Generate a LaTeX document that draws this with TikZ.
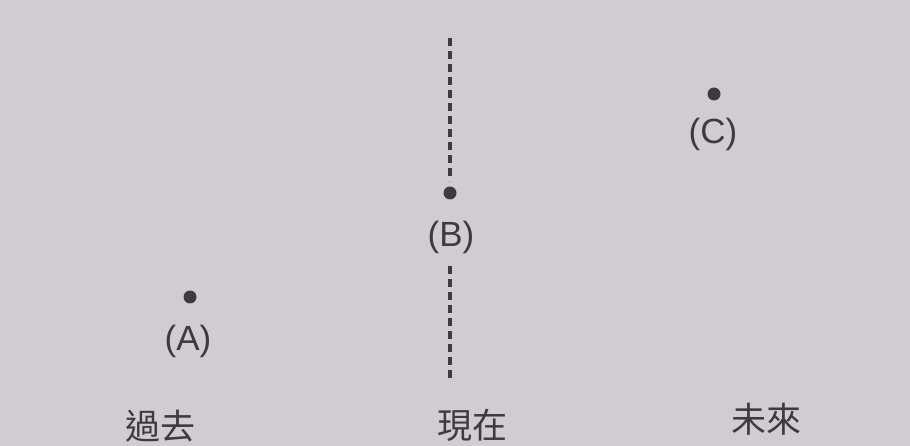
\documentclass[tikz,border=0pt]{standalone}
\usepackage{fontspec}
\setmainfont{Liberation Sans}
\newfontfamily\cjk{Noto Sans CJK TC}
\definecolor{paper}{RGB}{208,205,208}
\definecolor{ink}{RGB}{62,58,62}

\begin{document}
\begin{tikzpicture}[x=1pt,y=-1pt,
  dot/.style={circle,fill=ink,inner sep=0pt,minimum size=13pt},
  tag/.style={text=ink,font=\fontsize{35}{35}\selectfont},
  era/.style={text=ink,font=\cjk\fontsize{35}{35}\selectfont},
  now line/.style={draw=ink,line width=3.2pt,dash pattern=on 8pt off 5pt}]
% paper
\fill[paper] (0,0) rectangle (910,446);
\useasboundingbox (0,0) rectangle (910,446);

% the three points
\node[dot] (A) at (190,297) {};
\node[dot] (B) at (450,193) {};
\node[dot] (C) at (714,94) {};
\node[tag] (Alabel) at (188,341) {(A)};
\node[tag] (Blabel) at (451,237) {(B)};
\node[tag] (Clabel) at (713,134) {(C)};

% the present as a dashed line
\coordinate (Btop) at (450,38);
\coordinate (Bbot) at (450,378);
\draw[now line] (Btop) -- ([yshift=12pt]B.center);
\draw[now line] (Bbot) -- (450,263);

% eras
\node[era] (past) at (160,426) {過去};
\node[era] (present) at (472,425) {現在};
\node[era] (future) at (766,419) {未來};
\end{tikzpicture}
\end{document}
